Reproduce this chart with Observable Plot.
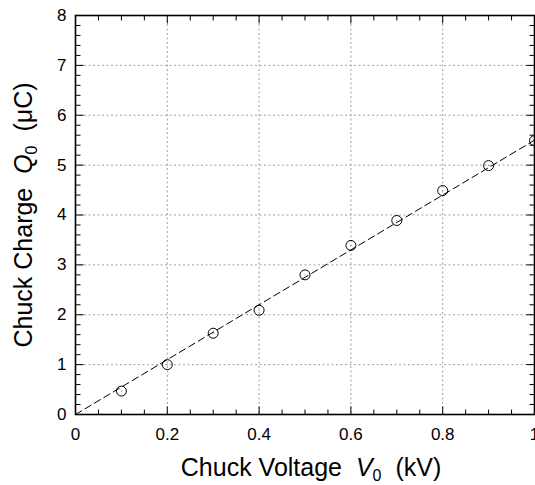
<!DOCTYPE html>
<html>
<head>
<meta charset="utf-8">
<script src="https://cdn.jsdelivr.net/npm/d3@7"></script>
<script src="https://cdn.jsdelivr.net/npm/@observablehq/plot@0.6"></script>
<style>
  html, body { margin: 0; padding: 0; background: white; }
</style>
</head>
<body>
<div id="chart"></div>
<script>
const voltage = [0.1, 0.2, 0.3, 0.4, 0.5, 0.6, 0.7, 0.8, 0.9, 1.0];
const charge  = [0.47, 1.0, 1.63, 2.09, 2.8, 3.39, 3.89, 4.49, 4.99, 5.49];
const fitVoltage = [0, 1];
const fitCharge = [0, 5.5];
const xTicks = [0, 0.2, 0.4, 0.6, 0.8, 1];
const xTickLabels = ["0", "0.2", "0.4", "0.6", "0.8", "1"];
const yTicks = [0, 1, 2, 3, 4, 5, 6, 7, 8];
const yTickLabels = ["0", "1", "2", "3", "4", "5", "6", "7", "8"];
const xMinorTicks = d3.range(0, 21).map(i => i * 0.05);
const yMinorTicks = d3.range(0, 41).map(i => i * 0.2);

const W = 535, H = 485, ML = 75, MR = 1, MT = 15, MB = 71;
const xDomain = [0, 1], yDomain = [0, 8];
const pxPerX = (W - ML - MR) / (xDomain[1] - xDomain[0]);
const pxPerY = (H - MT - MB) / (yDomain[1] - yDomain[0]);
const isMajorX = v => xTicks.some(t => Math.abs(t - v) < 1e-9);
const isMajorY = v => yTicks.some(t => Math.abs(t - v) < 1e-9);
const lenX = v => (isMajorX(v) ? 8 : 5) / pxPerY;  // vertical length of x ticks in y units
const lenY = v => (isMajorY(v) ? 8 : 5) / pxPerX;  // horizontal length of y ticks in x units

const points = voltage.map((v, i) => ({v, q: charge[i]}));
const fit = fitVoltage.map((v, i) => ({v, q: fitCharge[i]}));
const xFmt = d => xTickLabels[xTicks.findIndex(t => Math.abs(t - d) < 1e-9)];
const yFmt = d => yTickLabels[yTicks.findIndex(t => Math.abs(t - d) < 1e-9)];

// inward tick segments on all four sides
const xTickSegs = xMinorTicks.flatMap(v => [
  {x1: v, x2: v, y1: yDomain[0], y2: yDomain[0] + lenX(v)},
  {x1: v, x2: v, y1: yDomain[1], y2: yDomain[1] - lenX(v)}
]);
const yTickSegs = yMinorTicks.flatMap(v => [
  {x1: xDomain[0], x2: xDomain[0] + lenY(v), y1: v, y2: v},
  {x1: xDomain[1], x2: xDomain[1] - lenY(v), y1: v, y2: v}
]);

const plot = Plot.plot({
  width: W, height: H,
  marginLeft: ML, marginRight: MR, marginTop: MT, marginBottom: MB,
  style: {fontFamily: "'Liberation Sans', Arial, sans-serif", fontSize: "17px", color: "black", background: "white"},
  x: {domain: xDomain, label: null},
  y: {domain: yDomain, label: null},
  marks: [
    Plot.gridX(xTicks.filter(t => t > 0 && t < 1), {stroke: "#a0a0a0", strokeOpacity: 1, strokeDasharray: "2,2.5"}),
    Plot.gridY(yTicks.filter(t => t > 0 && t < 8), {stroke: "#a0a0a0", strokeOpacity: 1, strokeDasharray: "2,2.5"}),
    Plot.line(fit, {x: "v", y: "q", stroke: "black", strokeWidth: 1, strokeDasharray: "7,4"}),
    Plot.dot(points, {x: "v", y: "q", r: 5, stroke: "black", fill: "none", strokeWidth: 1}),
    Plot.dot(points, {x: "v", y: "q", r: 0.5, fill: "#555", stroke: null}),
    Plot.link(xTickSegs, {x1: "x1", x2: "x2", y1: "y1", y2: "y2", stroke: "black", strokeWidth: 1}),
    Plot.link(yTickSegs, {x1: "x1", x2: "x2", y1: "y1", y2: "y2", stroke: "black", strokeWidth: 1}),
    Plot.frame({stroke: "black", strokeWidth: 1.6}),
    Plot.axisX(xTicks, {tickSize: 0, tickPadding: 13, fontSize: 17, tickFormat: xFmt, label: null}),
    Plot.axisY(yTicks, {tickSize: 0, tickPadding: 9, fontSize: 17, tickFormat: yFmt, label: null})
  ]
});

document.getElementById("chart").appendChild(plot);

// Axis titles with italic symbols and subscripts
const svg = d3.select(plot);
const font = "'Liberation Sans', Arial, sans-serif";

const xt = svg.append("text")
  .attr("x", 311).attr("y", 476)
  .attr("text-anchor", "middle")
  .attr("font-family", font).attr("font-size", 25).attr("fill", "black")
  .style("white-space", "pre");
xt.append("tspan").text("Chuck Voltage  ");
xt.append("tspan").attr("font-style", "italic").text("V");
xt.append("tspan").attr("font-size", 16).attr("dy", 5).text("0");
xt.append("tspan").attr("dy", -5).text("  (kV)");

const yt = svg.append("text")
  .attr("transform", "translate(32,215) rotate(-90)")
  .attr("text-anchor", "middle")
  .attr("font-family", font).attr("font-size", 25).attr("fill", "black")
  .style("white-space", "pre");
yt.append("tspan").text("Chuck Charge  ");
yt.append("tspan").attr("font-style", "italic").text("Q");
yt.append("tspan").attr("font-size", 16).attr("dy", 5).text("0");
yt.append("tspan").attr("dy", -5).text("  (\u03bcC)");
</script>
</body>
</html>
